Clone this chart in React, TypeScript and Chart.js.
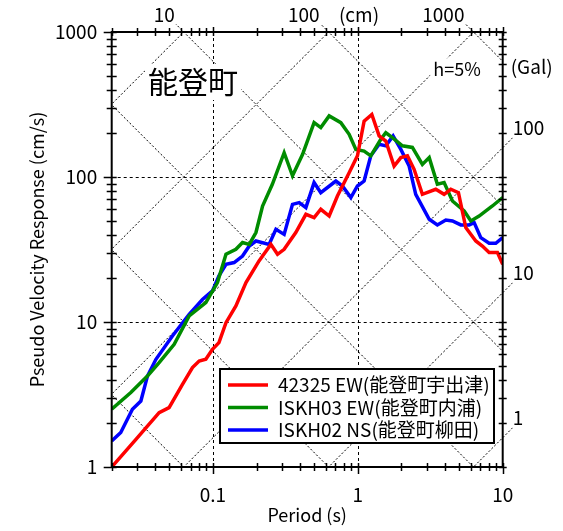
import React, { useEffect, useRef } from 'react';
import { Chart, registerables } from 'chart.js';
Chart.register(...registerables);

const FONT = '"Noto Sans CJK JP", "Noto Sans", sans-serif';

// ---- data (period s, pseudo velocity cm/s) ----
const redPeriod = [0.02, 0.0294, 0.0425, 0.0498, 0.0616, 0.0722, 0.0803, 0.0893, 0.0992, 0.11, 0.123, 0.144, 0.169, 0.208, 0.22, 0.251, 0.279, 0.31, 0.373, 0.438, 0.499, 0.555, 0.634, 0.723, 0.871, 0.994, 1.105, 1.249, 1.403, 1.56, 1.78, 1.981, 2.2, 2.446, 2.79, 3.45, 3.94, 4.38, 4.95, 5.56, 6.52, 7.24, 8.06, 9.2, 10];
const redSv = [1.0, 1.55, 2.37, 2.57, 3.72, 4.85, 5.38, 5.53, 6.48, 7.21, 9.9, 12.9, 18.7, 26.4, 28.5, 34.3, 29.3, 31.7, 41.4, 55.3, 52.5, 59.9, 53.8, 74.0, 107, 140, 243, 270, 192, 177, 119, 136, 140, 113, 76.0, 82.3, 76.0, 82.3, 78.0, 44.8, 36.2, 33.4, 30.1, 30.1, 25.0];

const greenPeriod = [0.02, 0.0271, 0.0353, 0.0425, 0.054, 0.0685, 0.0893, 0.1074, 0.123, 0.144, 0.16, 0.178, 0.198, 0.22, 0.257, 0.31, 0.354, 0.415, 0.499, 0.555, 0.634, 0.763, 0.871, 0.969, 1.105, 1.229, 1.441, 1.56, 1.733, 2.03, 2.38, 2.79, 3.11, 3.54, 3.94, 4.5, 5.42, 6.03, 6.87, 8.49, 10];
const greenSv = [2.5, 3.26, 4.24, 5.25, 7.02, 11.0, 13.6, 18.7, 29.3, 31.7, 35.3, 34.3, 41.4, 63.1, 89.1, 147, 102, 143, 237, 219, 264, 237, 197, 155, 151, 140, 182, 202, 187, 164, 160, 122, 136, 89.1, 91.5, 68.3, 58.3, 49.8, 53.8, 63.1, 72.1];

const bluePeriod = [0.02, 0.0231, 0.0278, 0.0318, 0.0353, 0.0404, 0.0525, 0.0685, 0.0846, 0.0992, 0.11, 0.123, 0.14, 0.16, 0.178, 0.198, 0.244, 0.272, 0.31, 0.354, 0.394, 0.438, 0.499, 0.555, 0.705, 0.783, 0.895, 0.994, 1.105, 1.229, 1.403, 1.56, 1.752, 1.981, 2.26, 2.51, 3.11, 3.54, 4.05, 4.5, 5.14, 5.86, 6.35, 7.06, 8.06, 8.96, 10];
const blueSv = [1.51, 1.73, 2.5, 2.85, 4.24, 5.53, 8.0, 11.3, 14.3, 16.4, 20.8, 25.0, 25.7, 28.5, 33.4, 36.2, 34.3, 43.6, 40.2, 64.8, 66.6, 61.5, 91.5, 78.0, 93.8, 86.7, 72.1, 86.7, 93.8, 140, 168, 164, 192, 155, 119, 76.0, 51.1, 46.7, 50.5, 49.8, 46.7, 46.7, 48.5, 38.2, 34.9, 34.9, 38.2];

const seriesLabels = ['42325 EW(能登町宇出津)', 'ISKH03 EW(能登町内浦)', 'ISKH02 NS(能登町柳田)'];
const seriesColors = ['#ff0000', '#008c00', '#0000ff'];

const xTickLabels = ['0.1', '1', '10'];
const yTickLabels = ['1', '10', '100', '1000'];
const dispLines = [0.01, 0.1, 1, 10, 100, 1000]; // cm
const dispLabels = ['10', '100', '1000'];
const accLines = [1, 10, 100, 1000, 10000, 100000]; // Gal
const accLabels = ['1', '10', '100'];
const chartTitle = '能登町';
const dampingText = 'h=5%';

const toPts = (p: number[], v: number[]) => p.map((t, i) => ({ x: t, y: v[i] }));

const isDecade = (v: number) => Math.abs(Math.log10(v) - Math.round(Math.log10(v))) < 1e-6;

const tripartite = {
  id: 'tripartite',
  beforeDatasetsDraw(chart: any) {
    const { ctx, chartArea: a, scales } = chart;
    const x = scales.x, y = scales.y;
    const W = a.right - a.left, H = a.bottom - a.top;
    ctx.save();
    ctx.strokeStyle = '#000';
    // dashed grid
    ctx.beginPath(); ctx.rect(a.left, a.top, W, H); ctx.clip();
    ctx.lineWidth = 1; ctx.setLineDash([3, 3]);
    [0.1, 1].forEach((v) => {
      const px = Math.round(x.getPixelForValue(v)) + 0.5;
      ctx.beginPath(); ctx.moveTo(px, a.top); ctx.lineTo(px, a.bottom); ctx.stroke();
    });
    [10, 100].forEach((v) => {
      const py = Math.round(y.getPixelForValue(v)) + 0.5;
      ctx.beginPath(); ctx.moveTo(a.left, py); ctx.lineTo(a.right, py); ctx.stroke();
    });
    ctx.restore();

    const twoPi = 2 * Math.PI;
    // displacement lines (extend above top slightly)
    ctx.save();
    ctx.beginPath(); ctx.rect(a.left, a.top - 8, W, H + 8); ctx.clip();
    ctx.strokeStyle = '#000'; ctx.lineWidth = 1; ctx.setLineDash([2, 2]);
    dispLines.forEach((d) => {
      const t1 = 0.001, t2 = 100;
      ctx.beginPath();
      ctx.moveTo(x.getPixelForValue(t1), y.getPixelForValue((twoPi * d) / t1));
      ctx.lineTo(x.getPixelForValue(t2), y.getPixelForValue((twoPi * d) / t2));
      ctx.stroke();
    });
    ctx.restore();
    // acceleration lines (extend right slightly)
    ctx.save();
    ctx.beginPath(); ctx.rect(a.left, a.top, W + 10, H); ctx.clip();
    ctx.strokeStyle = '#000'; ctx.lineWidth = 1; ctx.setLineDash([2, 2]);
    accLines.forEach((ac) => {
      const t1 = 0.001, t2 = 100;
      ctx.beginPath();
      ctx.moveTo(x.getPixelForValue(t1), y.getPixelForValue((ac * t1) / twoPi));
      ctx.lineTo(x.getPixelForValue(t2), y.getPixelForValue((ac * t2) / twoPi));
      ctx.stroke();
    });
    ctx.restore();
  },
  afterDatasetsDraw(chart: any) {
    const { ctx, chartArea: a, scales } = chart;
    const x = scales.x, y = scales.y;
    const twoPi = 2 * Math.PI;
    ctx.save();
    ctx.strokeStyle = '#000'; ctx.fillStyle = '#000'; ctx.setLineDash([]);
    // axes frame
    ctx.lineWidth = 2;
    ctx.strokeRect(a.left, a.top, a.right - a.left, a.bottom - a.top);
    // ticks
    ctx.lineWidth = 1.5;
    const xt: number[] = [];
    for (let e = -2; e <= 1; e++) for (let m = 1; m <= 9; m++) {
      const v = m * Math.pow(10, e);
      if (v >= 0.0199 && v <= 10.001) xt.push(v);
    }
    xt.forEach((v) => {
      const px = Math.round(x.getPixelForValue(v)) + 0.5;
      const major = isDecade(v);
      ctx.beginPath();
      ctx.moveTo(px, a.bottom - 4); ctx.lineTo(px, a.bottom + (major ? 7 : 4));
      ctx.moveTo(px, a.top - (major ? 5 : 4)); ctx.lineTo(px, a.top + 4);
      ctx.stroke();
    });
    const yt: number[] = [];
    for (let e = 0; e <= 3; e++) for (let m = 1; m <= 9; m++) {
      const v = m * Math.pow(10, e);
      if (v <= 1000.001) yt.push(v);
    }
    yt.forEach((v) => {
      const py = Math.round(y.getPixelForValue(v)) + 0.5;
      const major = isDecade(v);
      ctx.beginPath();
      ctx.moveTo(a.left - (major ? 8 : 5), py); ctx.lineTo(a.left + 5, py);
      ctx.moveTo(a.right - 4, py); ctx.lineTo(a.right + 4, py);
      ctx.stroke();
    });

    // top displacement labels
    ctx.font = `19px ${FONT}`;
    ctx.textBaseline = 'middle';
    ctx.textAlign = 'right';
    dispLabels.forEach((lbl) => {
      const d = Number(lbl);
      const px = x.getPixelForValue((twoPi * d) / 1000);
      ctx.fillText(lbl, px - 9, 15);
    });
    ctx.textAlign = 'center';
    ctx.fillText('(cm)', 359, 15);
    // right acceleration labels
    ctx.textAlign = 'left';
    accLabels.forEach((lbl) => {
      const ac = Number(lbl);
      const py = y.getPixelForValue((ac * 10) / twoPi);
      ctx.fillText(lbl, a.right + 10, py - 20);
    });
    ctx.fillText('(Gal)', a.right + 8, 67);

    // title and damping with white backgrounds
    const boxText = (txt: string, cx: number, cy: number, size: number) => {
      ctx.font = `${size}px ${FONT}`;
      const w = ctx.measureText(txt).width;
      ctx.fillStyle = '#fff';
      ctx.fillRect(cx - w / 2 - 3, cy - size * 0.6, w + 6, size * 1.2);
      ctx.fillStyle = '#000';
      ctx.textAlign = 'center'; ctx.textBaseline = 'middle';
      ctx.fillText(txt, cx, cy);
    };
    boxText(chartTitle, 193, 82, 30);
    boxText(dampingText, 457, 69, 18);

    // legend
    const lx = 220, ly = 369, lw = 274, lh = 74;
    ctx.fillStyle = '#fff';
    ctx.fillRect(lx, ly, lw, lh);
    ctx.lineWidth = 2; ctx.strokeStyle = '#000';
    ctx.strokeRect(lx, ly, lw, lh);
    ctx.font = `19px ${FONT}`;
    ctx.textAlign = 'left'; ctx.textBaseline = 'middle';
    chart.data.datasets.forEach((ds: any, i: number) => {
      const ry = 385 + i * 22.5;
      ctx.strokeStyle = ds.borderColor; ctx.lineWidth = 3.5;
      ctx.beginPath(); ctx.moveTo(228, ry); ctx.lineTo(268, ry); ctx.stroke();
      ctx.fillStyle = '#000';
      ctx.fillText(ds.label, 278, ry);
    });
    ctx.restore();
  },
};

export default function App() {
  const ref = useRef<HTMLCanvasElement | null>(null);
  useEffect(() => {
    if (!ref.current) return;
    const datasets = [
      toPts(redPeriod, redSv),
      toPts(greenPeriod, greenSv),
      toPts(bluePeriod, blueSv),
    ].map((pts, i) => ({
      label: seriesLabels[i],
      data: pts,
      borderColor: seriesColors[i],
      backgroundColor: seriesColors[i],
      borderWidth: 3.5,
      pointRadius: 0,
      tension: 0,
      fill: false,
    }));
    const chart = new Chart(ref.current, {
      type: 'line',
      data: { datasets },
      options: {
        responsive: false,
        animation: false,
        devicePixelRatio: 1,
        layout: { padding: { left: 0, top: 32, right: 60.3, bottom: 0 } },
        plugins: { legend: { display: false }, tooltip: { enabled: false } },
        scales: {
          x: {
            type: 'logarithmic',
            position: 'bottom',
            min: 0.02,
            max: 10,
            grid: { display: false, drawTicks: false },
            border: { display: false },
            ticks: {
              autoSkip: false, maxRotation: 0, minRotation: 0, padding: 16,
              color: '#000', font: { family: FONT, size: 19 },
              callback: (v: any) => {
                const n = Number(v);
                return xTickLabels.find((t) => Math.abs(Number(t) - n) < n * 1e-6) ?? '';
              },
            },
            title: { display: true, text: 'Period (s)', color: '#000', font: { family: FONT, size: 18 }, padding: { top: 0, bottom: 5 } },
            afterFit: (s: any) => { s.height = 64; },
          },
          y: {
            type: 'logarithmic',
            position: 'left',
            min: 1,
            max: 1000,
            grid: { display: false, drawTicks: false },
            border: { display: false },
            ticks: {
              autoSkip: false, padding: 14.5,
              color: '#000', font: { family: FONT, size: 19 },
              callback: (v: any) => {
                const n = Number(v);
                return yTickLabels.find((t) => Math.abs(Number(t) - n) < n * 1e-6) ?? '';
              },
            },
            title: { display: true, text: 'Pseudo Velocity Response (cm/s)', color: '#000', font: { family: FONT, size: 18 }, padding: { top: 26, bottom: 0 } },
            afterFit: (s: any) => { s.width = 111.7; },
          },
        },
      },
      plugins: [tripartite],
    } as any);
    return () => chart.destroy();
  }, []);
  return (
    <canvas
      ref={ref}
      width={563}
      height={531}
      style={{ position: 'absolute', left: 0, top: 0, width: 563, height: 531, display: 'block' }}
    />
  );
}
